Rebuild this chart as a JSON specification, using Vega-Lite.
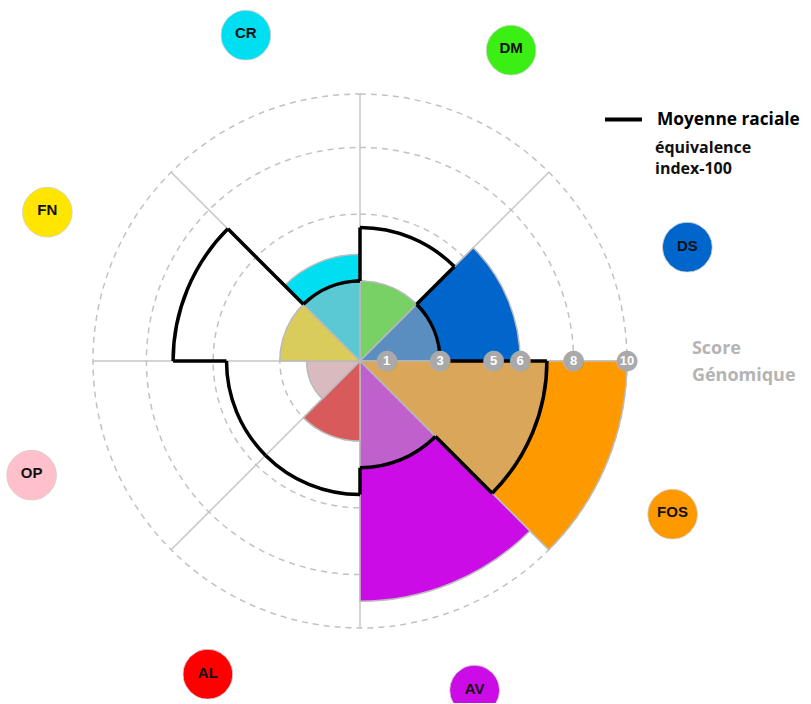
{
  "$schema": "https://vega.github.io/schema/vega-lite/v6.json",
  "width": 720,
  "height": 684,
  "autosize": {"type": "none"},
  "padding": {"left": 0, "top": 19, "right": 91, "bottom": 0},
  "background": "white",
  "config": {"view": {"stroke": null}, "font": "Liberation Sans"},
  "datasets": {
    "sectors": [
      {"name": "DM", "t0": 0, "t1": 45, "score": 3, "moy": 5, "overlap": 3, "color": "#3bee14", "labelAngle": 25.8},
      {"name": "DS", "t0": 45, "t1": 90, "score": 6, "moy": 3, "overlap": 3, "color": "#0066cc", "labelAngle": 70.6},
      {"name": "FOS", "t0": 90, "t1": 135, "score": 10, "moy": 7, "overlap": 7, "color": "#ff9900", "labelAngle": 115.8},
      {"name": "AV", "t0": 135, "t1": 180, "score": 9, "moy": 4, "overlap": 4, "color": "#cc0ce6", "labelAngle": 160.7},
      {"name": "AL", "t0": 180, "t1": 225, "score": 3, "moy": 5, "overlap": 3, "color": "#ff0000", "labelAngle": 206},
      {"name": "OP", "t0": 225, "t1": 270, "score": 2, "moy": 5, "overlap": 2, "color": "#ffc0cb", "labelAngle": 251.1},
      {"name": "FN", "t0": 270, "t1": 315, "score": 3, "moy": 7, "overlap": 3, "color": "#ffe500", "labelAngle": 295.7},
      {"name": "CR", "t0": 315, "t1": 360, "score": 4, "moy": 3, "overlap": 3, "color": "#00def2", "labelAngle": 340.8}
    ],
    "edges": [
      {"a": 0, "lo": 3, "hi": 5},
      {"a": 45, "lo": 3, "hi": 5},
      {"a": 90, "lo": 3, "hi": 7},
      {"a": 135, "lo": 4, "hi": 7},
      {"a": 180, "lo": 4, "hi": 5},
      {"a": 270, "lo": 5, "hi": 7},
      {"a": 315, "lo": 3, "hi": 7}
    ],
    "spokes": [{"a": 0}, {"a": 45}, {"a": 90}, {"a": 135}, {"a": 180}, {"a": 225}, {"a": 270}, {"a": 315}],
    "rings": [{"r": 3}, {"r": 5.5}, {"r": 8}, {"r": 10}],
    "ticks": [{"v": 1}, {"v": 3}, {"v": 5}, {"v": 6}, {"v": 8}, {"v": 10}],
    "axisTitle": [{"text": "Score\nGénomique", "a": 90, "r": 12.43}]
  },
  "layer": [
    {
      "data": {"name": "spokes"},
      "mark": {"type": "arc", "filled": false, "stroke": "#c6c6c6", "strokeWidth": 1.5},
      "encoding": {
        "theta": {"field": "a", "type": "quantitative", "scale": {"domain": [0, 360], "range": [0, 6.283185307179586]}},
        "theta2": {"field": "a"},
        "radius": {"datum": 10, "type": "quantitative", "stack": null, "scale": {"type": "linear", "domain": [0, 10], "range": [0, 267], "zero": true, "nice": false}}
      }
    },
    {
      "data": {"name": "rings"},
      "mark": {"type": "arc", "filled": false, "stroke": "#c2c2c2", "strokeWidth": 1.5, "strokeDash": [6, 5]},
      "encoding": {
        "theta": {"datum": 0, "type": "quantitative", "scale": {"domain": [0, 360], "range": [0, 6.283185307179586]}},
        "theta2": {"datum": 360},
        "radius": {"field": "r", "type": "quantitative", "stack": null, "scale": {"type": "linear", "domain": [0, 10], "range": [0, 267], "zero": true, "nice": false}}
      }
    },
    {
      "data": {"name": "sectors"},
      "mark": {"type": "arc", "stroke": "#bdbdbd", "strokeWidth": 1.5},
      "encoding": {
        "theta": {"field": "t0", "type": "quantitative", "scale": {"domain": [0, 360], "range": [0, 6.283185307179586]}},
        "theta2": {"field": "t1"},
        "radius": {"field": "score", "type": "quantitative", "stack": null, "scale": {"type": "linear", "domain": [0, 10], "range": [0, 267], "zero": true, "nice": false}},
        "fill": {"field": "color", "type": "nominal", "scale": null}
      }
    },
    {
      "data": {"name": "sectors"},
      "mark": {"type": "arc", "fill": "#b4b4b4", "fillOpacity": 0.5, "stroke": null},
      "encoding": {
        "theta": {"field": "t0", "type": "quantitative", "scale": {"domain": [0, 360], "range": [0, 6.283185307179586]}},
        "theta2": {"field": "t1"},
        "radius": {"field": "overlap", "type": "quantitative", "stack": null, "scale": {"type": "linear", "domain": [0, 10], "range": [0, 267], "zero": true, "nice": false}}
      }
    },
    {
      "data": {"name": "sectors"},
      "mark": {"type": "arc", "filled": false, "strokeWidth": 3.5},
      "encoding": {
        "theta": {"field": "t0", "type": "quantitative", "scale": {"domain": [0, 360], "range": [0, 6.283185307179586]}},
        "theta2": {"field": "t1"},
        "radius": {"field": "moy", "type": "quantitative", "stack": null, "scale": {"type": "linear", "domain": [0, 10], "range": [0, 267], "zero": true, "nice": false}},
        "radius2": {"field": "moy"},
        "stroke": {
          "datum": "Moyenne raciale",
          "type": "nominal",
          "scale": {"range": ["#000000"]},
          "legend": {
            "orient": "none",
            "legendX": 655,
            "legendY": 80,
            "title": ["équivalence", "index-100"],
            "titleOrient": "bottom",
            "titleAnchor": "start",
            "titleAlign": "left",
            "titleFont": "Open Sans",
            "titleFontSize": 16,
            "titleFontWeight": "bold",
            "titleColor": "#111111",
            "titleLineHeight": 21,
            "titlePadding": 12,
            "symbolType": "stroke",
            "symbolSize": 1369,
            "symbolStrokeWidth": 4,
            "symbolFillColor": "transparent",
            "symbolOffset": -52,
            "labelOffset": 13,
            "labelFont": "Open Sans",
            "labelFontSize": 17.3,
            "labelFontWeight": "bold",
            "labelColor": "#000000",
            "labelLimit": 300
          }
        }
      }
    },
    {
      "data": {"name": "edges"},
      "mark": {"type": "arc", "filled": false, "stroke": "#000000", "strokeWidth": 3.5, "strokeCap": "square"},
      "encoding": {
        "theta": {"field": "a", "type": "quantitative", "scale": {"domain": [0, 360], "range": [0, 6.283185307179586]}},
        "theta2": {"field": "a"},
        "radius": {"field": "hi", "type": "quantitative", "stack": null, "scale": {"type": "linear", "domain": [0, 10], "range": [0, 267], "zero": true, "nice": false}},
        "radius2": {"field": "lo"}
      }
    },
    {
      "data": {"name": "ticks"},
      "mark": {"type": "text", "text": "●", "font": "DejaVu Sans", "fontSize": 27, "fill": "#a9a9a9", "align": "center", "baseline": "middle", "dy": -1},
      "encoding": {
        "theta": {"datum": 90, "type": "quantitative", "stack": null, "scale": {"domain": [0, 360], "range": [0, 6.283185307179586]}},
        "radius": {"field": "v", "type": "quantitative", "stack": null, "scale": {"type": "linear", "domain": [0, 10], "range": [0, 267], "zero": true, "nice": false}}
      }
    },
    {
      "data": {"name": "ticks"},
      "mark": {"type": "text", "font": "Liberation Sans", "fontSize": 13, "fontWeight": "bold", "fill": "#ffffff", "align": "center", "baseline": "middle"},
      "encoding": {
        "theta": {"datum": 90, "type": "quantitative", "stack": null, "scale": {"domain": [0, 360], "range": [0, 6.283185307179586]}},
        "radius": {"field": "v", "type": "quantitative", "stack": null, "scale": {"type": "linear", "domain": [0, 10], "range": [0, 267], "zero": true, "nice": false}},
        "text": {"field": "v", "type": "quantitative"}
      }
    },
    {
      "data": {"name": "sectors"},
      "mark": {"type": "text", "text": "●", "font": "DejaVu Sans", "fontSize": 65, "stroke": "#d0d0d0", "strokeWidth": 0.6, "align": "center", "baseline": "middle", "dy": -1.5},
      "encoding": {
        "theta": {"field": "labelAngle", "type": "quantitative", "stack": null, "scale": {"domain": [0, 360], "range": [0, 6.283185307179586]}},
        "radius": {"datum": 13, "type": "quantitative", "stack": null, "scale": {"type": "linear", "domain": [0, 10], "range": [0, 267], "zero": true, "nice": false}},
        "fill": {"field": "color", "type": "nominal", "scale": null}
      }
    },
    {
      "data": {"name": "sectors"},
      "mark": {"type": "text", "font": "Liberation Sans", "fontSize": 15, "fontWeight": "bold", "fill": "#111111", "align": "center", "baseline": "middle"},
      "encoding": {
        "theta": {"field": "labelAngle", "type": "quantitative", "stack": null, "scale": {"domain": [0, 360], "range": [0, 6.283185307179586]}},
        "radius": {"datum": 13, "type": "quantitative", "stack": null, "scale": {"type": "linear", "domain": [0, 10], "range": [0, 267], "zero": true, "nice": false}},
        "text": {"field": "name", "type": "nominal"}
      }
    },
    {
      "data": {"name": "axisTitle"},
      "mark": {"type": "text", "font": "Open Sans", "fontSize": 18, "fontWeight": "bold", "fill": "#b4b4b4", "align": "left", "baseline": "middle", "lineBreak": "\n", "lineHeight": 27, "dy": -12},
      "encoding": {
        "theta": {"field": "a", "type": "quantitative", "stack": null, "scale": {"domain": [0, 360], "range": [0, 6.283185307179586]}},
        "radius": {"field": "r", "type": "quantitative", "stack": null, "scale": {"type": "linear", "domain": [0, 10], "range": [0, 267], "zero": true, "nice": false}},
        "text": {"field": "text", "type": "nominal"}
      }
    }
  ]
}
